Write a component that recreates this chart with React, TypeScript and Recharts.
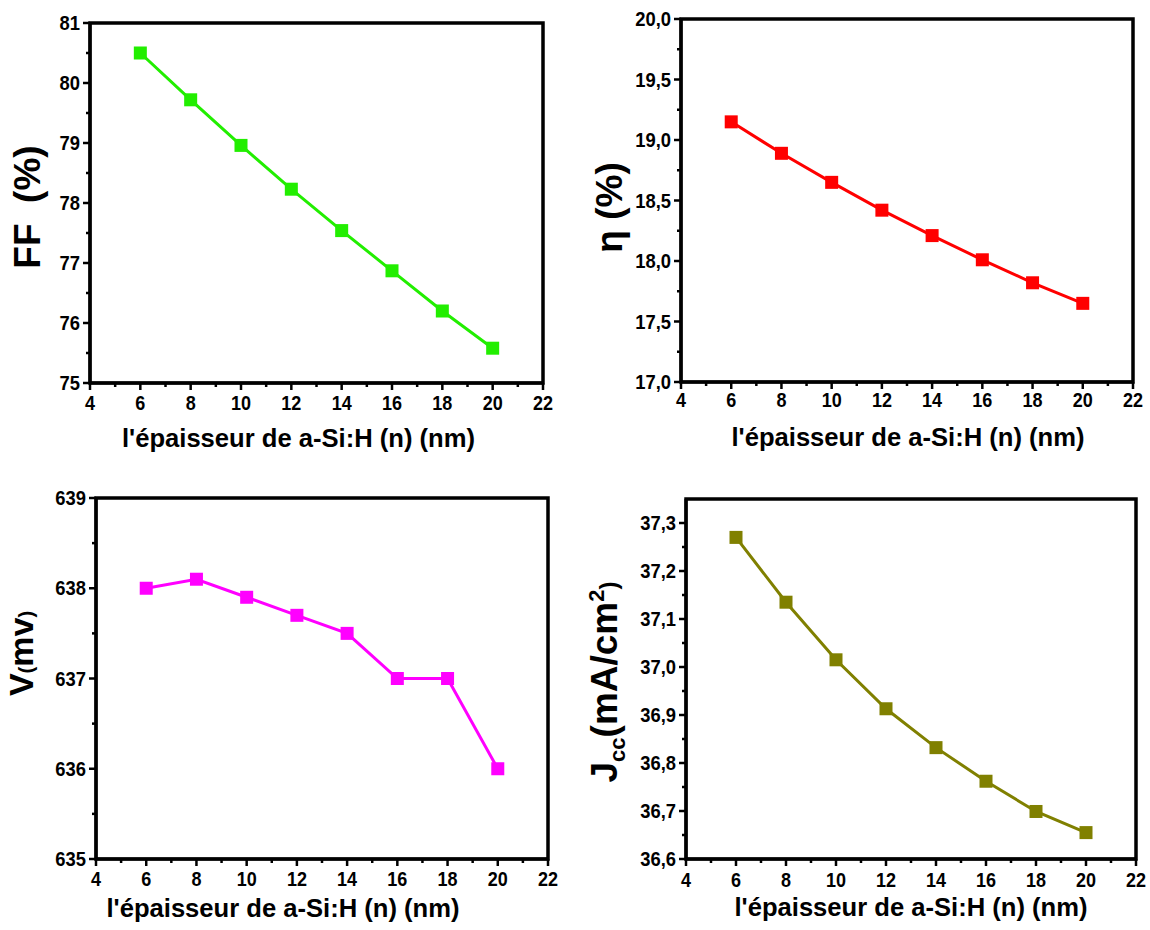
import React from 'react'
import { LineChart, Line, XAxis, YAxis, ReferenceArea } from 'recharts'

// a-Si:H (n) layer thickness, nm
const thickness = [6, 8, 10, 12, 14, 16, 18, 20]

const ffValues = [80.5, 79.72, 78.96, 78.23, 77.54, 76.87, 76.2, 75.58]
const etaValues = [19.15, 18.89, 18.65, 18.42, 18.21, 18.01, 17.82, 17.65]
const vocValues = [638.0, 638.1, 637.9, 637.7, 637.5, 637.0, 637.0, 636.0]
const jccValues = [37.27, 37.135, 37.015, 36.913, 36.832, 36.762, 36.699, 36.655]

const xMajorTicks = [4, 6, 8, 10, 12, 14, 16, 18, 20, 22]
const xMinorTicks = [5, 7, 9, 11, 13, 15, 17, 19, 21]

const ffTicks = [75, 76, 77, 78, 79, 80, 81]
const ffMinor = [75.5, 76.5, 77.5, 78.5, 79.5, 80.5]
const etaTicks = [17, 17.5, 18, 18.5, 19, 19.5, 20]
const etaMinor = [17.25, 17.75, 18.25, 18.75, 19.25, 19.75]
const vocTicks = [635, 636, 637, 638, 639]
const vocMinor = [635.5, 636.5, 637.5, 638.5]
const jccTicks = [36.6, 36.7, 36.8, 36.9, 37.0, 37.1, 37.2, 37.3]
const jccMinor = [36.65, 36.75, 36.85, 36.95, 37.05, 37.15, 37.25]

const xTitle = "l'épaisseur de a-Si:H (n) (nm)"

const FONT = '"Liberation Sans", Arial, Helvetica, sans-serif'
const AXIS_W = 110

type Rect = { left: number; top: number; right: number; bottom: number }

interface PanelProps {
  plot: Rect
  values: number[]
  color: string
  yDomain: [number, number]
  yMajor: number[]
  yMinor: number[]
  comma?: boolean
  yTitle: React.ReactNode
  yTitleX: number // absolute baseline x of the rotated title
  yTitleDy: number
  yTitleSize?: number
  xTitleDx: number
  xTitleY: number
  xTickGap: number
}

const isMajor = (v: number, majors: number[]) => majors.some(m => Math.abs(m - v) < 1e-6)

function Panel({
  plot,
  values,
  color,
  yDomain,
  yMajor,
  yMinor,
  comma = false,
  yTitle,
  yTitleX,
  yTitleDy,
  yTitleSize = 37,
  xTitleDx,
  xTitleY,
  xTickGap
}: PanelProps) {
  const chartLeft = plot.left - AXIS_W
  const chartTop = plot.top - 20
  const width = plot.right - chartLeft + 12
  const height = plot.bottom - chartTop + 75
  const data = thickness.map((x, i) => ({ x, y: values[i] }))

  const fmt = (v: number) => (comma ? v.toFixed(1).replace('.', ',') : String(v))

  const renderXTick = (props: any) => {
    const { x, y, payload } = props
    const major = isMajor(payload.value, xMajorTicks)
    return (
      <g>
        <line x1={x} x2={x} y1={y} y2={y + (major ? 7 : 4)} stroke="#000" strokeWidth={2.5} />
        {major && (
          <text
            transform={`translate(${x},${y + xTickGap + 14}) scale(0.9,1)`}
            textAnchor="middle"
            fontFamily={FONT}
            fontWeight="bold"
            fontSize={20}
            fill="#000"
          >
            {payload.value}
          </text>
        )}
      </g>
    )
  }

  const renderYTick = (props: any) => {
    const { x, y, payload } = props
    const major = isMajor(payload.value, yMajor)
    return (
      <g>
        <line x1={x - (major ? 7 : 4)} x2={x} y1={y} y2={y} stroke="#000" strokeWidth={2.5} />
        {major && (
          <text
            transform={`translate(${x - 10},${y + 7}) scale(0.92,1)`}
            textAnchor="end"
            fontFamily={FONT}
            fontWeight="bold"
            fontSize={20}
            fill="#000"
          >
            {fmt(payload.value)}
          </text>
        )}
      </g>
    )
  }

  const renderSquare = (props: any) => {
    const { cx, cy, index } = props
    return <rect key={`sq-${index}`} x={cx - 6.5} y={cy - 6.5} width={13} height={13} fill={color} />
  }

  const yLabel = (props: any) => {
    const vb = props.viewBox
    const cx = yTitleX - chartLeft
    const cy = vb.y + vb.height / 2 + yTitleDy
    return (
      <text
        x={cx}
        y={cy}
        transform={`rotate(-90, ${cx}, ${cy})`}
        textAnchor="middle"
        fontFamily={FONT}
        fontWeight="bold"
        fontSize={yTitleSize}
        fill="#000"
      >
        {yTitle}
      </text>
    )
  }

  const xLabel = (props: any) => {
    const vb = props.viewBox
    return (
      <text
        x={vb.x + vb.width / 2 + xTitleDx}
        y={vb.y + xTitleY}
        textAnchor="middle"
        fontFamily={FONT}
        fontWeight="bold"
        fontSize={26}
        textLength={353}
        lengthAdjust="spacingAndGlyphs"
        fill="#000"
      >
        {xTitle}
      </text>
    )
  }

  return (
    <div style={{ position: 'absolute', left: chartLeft, top: chartTop }}>
      <LineChart width={width} height={height} data={data} margin={{ top: 20, right: 12, bottom: 0, left: 0 }}>
        <XAxis
          type="number"
          dataKey="x"
          domain={[4, 22]}
          ticks={[...xMajorTicks, ...xMinorTicks]}
          interval={0}
          height={75}
          tickSize={0}
          tickMargin={0}
          tickLine={false}
          tick={renderXTick}
          axisLine={{ stroke: '#000', strokeWidth: 3 }}
          label={xLabel}
          allowDataOverflow
        />
        <YAxis
          type="number"
          domain={yDomain}
          ticks={[...yMajor, ...yMinor]}
          interval={0}
          width={AXIS_W}
          tickSize={0}
          tickMargin={0}
          tickLine={false}
          tick={renderYTick}
          axisLine={{ stroke: '#000', strokeWidth: 3 }}
          label={yLabel}
          allowDataOverflow
        />
        <ReferenceArea
          x1={4}
          x2={22}
          y1={yDomain[0]}
          y2={yDomain[1]}
          fill="none"
          stroke="#000"
          strokeWidth={3.5}
          ifOverflow="visible"
        />
        <Line
          type="linear"
          dataKey="y"
          stroke={color}
          strokeWidth={3}
          dot={renderSquare}
          activeDot={false}
          isAnimationActive={false}
        />
      </LineChart>
    </div>
  )
}

export default function App() {
  return (
    <div
      style={{
        position: 'absolute',
        left: 0,
        top: 0,
        width: 1150,
        height: 930,
        background: '#fff',
        overflow: 'hidden'
      }}
    >
      <Panel
        plot={{ left: 90, top: 23, right: 543, bottom: 383 }}
        values={ffValues}
        color="#22ee00"
        yDomain={[75, 81]}
        yMajor={ffTicks}
        yMinor={ffMinor}
        yTitle={'FF\u00a0\u00a0(%)'}
        yTitleX={40}
        yTitleDy={4}
        xTitleDx={-18}
        xTitleY={64}
        xTickGap={13}
      />
      <Panel
        plot={{ left: 681, top: 19, right: 1133, bottom: 382 }}
        values={etaValues}
        color="#ff0000"
        yDomain={[17, 20]}
        yMajor={etaTicks}
        yMinor={etaMinor}
        comma
        yTitle={'η\u00a0(%)'}
        yTitleX={622}
        yTitleDy={7}
        xTitleDx={1}
        xTitleY={64}
        xTickGap={11}
      />
      <Panel
        plot={{ left: 96, top: 498, right: 548, bottom: 859 }}
        values={vocValues}
        color="#ff00ff"
        yDomain={[635, 639]}
        yMajor={vocTicks}
        yMinor={vocMinor}
        yTitle={
          <>
            <tspan>V</tspan>
            <tspan fontSize={20}>(</tspan>
            <tspan>mv</tspan>
            <tspan fontSize={20}>)</tspan>
          </>
        }
        yTitleX={33}
        yTitleDy={-25}
        yTitleSize={34}
        xTitleDx={-39}
        xTitleY={58}
        xTickGap={13}
      />
      <Panel
        plot={{ left: 686, top: 499, right: 1136, bottom: 859 }}
        values={jccValues}
        color="#808000"
        yDomain={[36.6, 37.35]}
        yMajor={jccTicks}
        yMinor={jccMinor}
        comma
        yTitle={
          <>
            <tspan>J</tspan>
            <tspan fontSize={22} dy={8}>cc</tspan>
            <tspan dy={-8}>(mA/cm</tspan>
            <tspan fontSize={22} dy={-13}>2</tspan>
            <tspan fontSize={24} dy={13}>)</tspan>
          </>
        }
        yTitleX={617}
        yTitleDy={3}
        xTitleDx={0}
        xTitleY={57}
        xTickGap={14}
      />
    </div>
  )
}
